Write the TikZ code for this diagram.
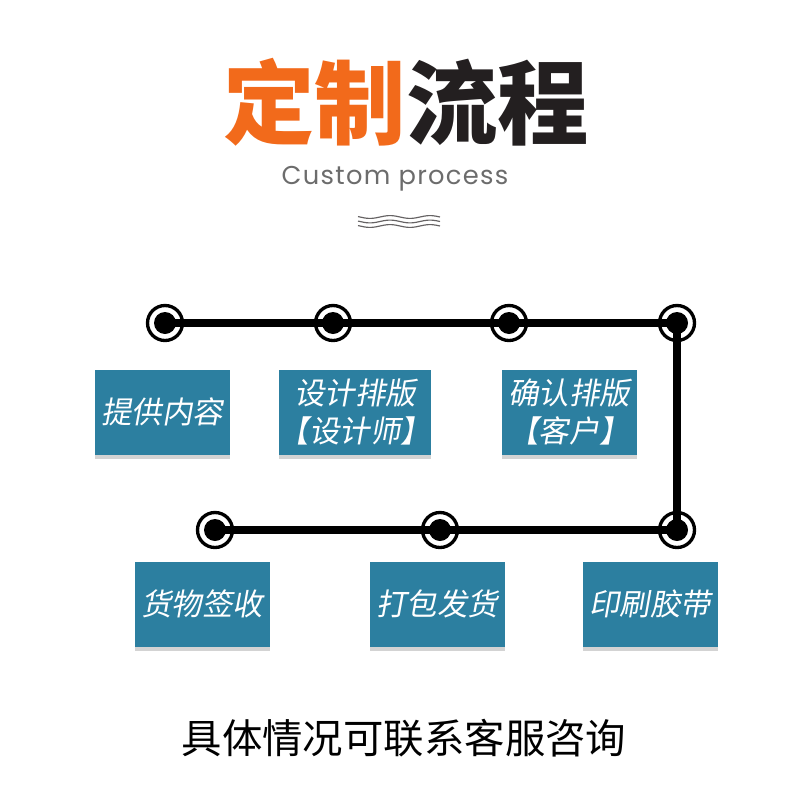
\documentclass[tikz,border=0pt]{standalone}
\usepackage{fontspec}
\usetikzlibrary{shadows}
\newfontfamily\cjk{Noto Sans CJK SC}
\newfontfamily\cjkit[FakeSlant=0.18]{Noto Sans CJK SC}
\newfontfamily\latin[LetterSpace=5]{Poppins}
\definecolor{titleorange}{HTML}{F26A1B}
\definecolor{titledark}{HTML}{231F20}
\definecolor{boxblue}{HTML}{2C7FA0}
\tikzset{
  stepbox/.style={fill=boxblue, text=white, align=center,
    minimum width=40.5mm, minimum height=25.5mm, inner sep=0pt,
    drop shadow={shadow xshift=0mm, shadow yshift=-1.2mm, fill=gray, opacity=0.35},
    font=\cjkit\fontsize{26}{32}\selectfont},
  ring/.style={circle, draw, line width=1mm, fill=white, minimum size=10.5mm, inner sep=0pt},
  dot/.style={circle, fill, minimum size=6.6mm, inner sep=0pt},
  route/.style={line width=2.4mm}
}

\begin{document}
\begin{tikzpicture}[x=0.3mm, y=-0.3mm]
  \useasboundingbox (0,0) rectangle (800,800);
  % 标题
  \node[font=\cjk\bfseries\fontsize{78}{80}\selectfont, text=titledark] (title) at (406,102)
    {{\color{titleorange}定制}流程};
  \node[font=\latin\fontsize{22}{26}\selectfont, text=gray!85!black] (sub) at (395,179) {Custom process};
  % 波浪线
  \foreach \k in {0,1,2}
    \draw[titledark!70, line width=0.35mm] plot[domain=358:440, samples=50] (\x, {217+4.5*\k+1.4*sin(\x*9)});
  % 圆点位置: 上排 r1..r4, 下排 r5..r7 (从右到左)
  \node[ring] (r1) at (165,323) {};
  \node[ring] (r2) at (333,323) {};
  \node[ring] (r3) at (509,323) {};
  \node[ring] (r4) at (677,323) {};
  \node[ring] (r5) at (677,530) {};
  \node[ring] (r6) at (440,530) {};
  \node[ring] (r7) at (215,530) {};
  \draw[route] (r1.center) -- (r4.center) -- (r5.center) -- (r7.center);
  \foreach \r in {r1,r2,r3,r4,r5,r6,r7}
    \node[dot] at (\r) {};
  % 步骤框
  \node[stepbox] (s1) at (162,412) {提供内容};
  \node[stepbox] (s2) at (355,412) {设计排版\\【设计师】};
  \node[stepbox] (s3) at (569,412) {确认排版\\【客户】};
  \node[stepbox] (s4) at (202,604) {货物签收};
  \node[stepbox] (s5) at (437,604) {打包发货};
  \node[stepbox] (s6) at (650,604) {印刷胶带};
  % 底部说明
  \node[font=\cjk\fontsize{34.5}{40}\selectfont, text=black] (note) at (404,738) {具体情况可联系客服咨询};
\end{tikzpicture}
\end{document}
